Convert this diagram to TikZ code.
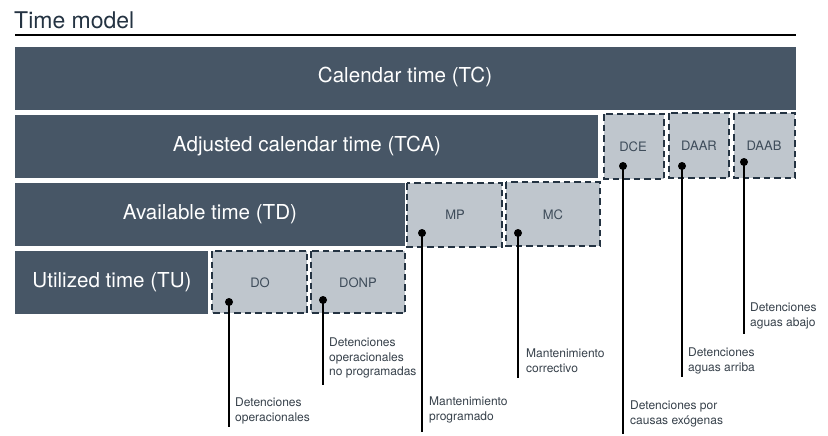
\documentclass[tikz,border=0pt]{standalone}
\usepackage{fontspec}
\setmainfont{TeX Gyre Heros}
\begin{document}
\definecolor{slate}{HTML}{475666}
\definecolor{paleslate}{HTML}{BFC6CD}
\definecolor{edge}{HTML}{243342}
\definecolor{labelgray}{HTML}{3E4C5A}
\definecolor{notegray}{HTML}{36404A}
\begin{tikzpicture}[x=1pt,y=-1pt,
  band/.style={fill=slate,draw=none},
  bandtext/.style={text=white,font=\fontsize{20.6}{24}\selectfont,inner sep=0pt},
  lossbox/.style={fill=paleslate,draw=edge,line width=2pt,dash pattern=on 6.5pt off 4pt},
  losstext/.style={text=labelgray,font=\fontsize{13}{15}\selectfont,inner sep=0pt},
  pin/.style={fill=black,draw=none},
  leader/.style={draw=black,line width=1.1pt},
  note/.style={text=notegray,font=\fontsize{12}{14.2}\selectfont,align=left,inner sep=0pt,anchor=north west}]
\useasboundingbox (0,0) rectangle (828,436);

% heading
\node[anchor=base west,inner sep=0pt,text=edge,font=\fontsize{23}{27}\selectfont] (title) at (14,29) {Time model};
\draw[line width=2pt] (15,35) -- (796,35);

% nested time bands
\fill[band] (15,47) rectangle (796,110);
\node[bandtext] (tc) at (405,77) {Calendar time (TC)};
\fill[band] (15,115) rectangle (598,178);
\node[bandtext] (tca) at (307,146) {Adjusted calendar time (TCA)};
\fill[band] (15,183) rectangle (405,246);
\node[bandtext] (td) at (210,214) {Available time (TD)};
\fill[band] (15,251) rectangle (208,314);
\node[bandtext] (tu) at (112,282) {Utilized time (TU)};

% losses
\draw[lossbox] (604,114) rectangle (664,179);
\node[losstext] (dce) at (633,147) {DCE};
\draw[lossbox] (669,113) rectangle (729,178);
\node[losstext] (daar) at (699,146) {DAAR};
\draw[lossbox] (734,113) rectangle (795,178);
\node[losstext] (daab) at (764,146) {DAAB};
\draw[lossbox] (407,183) rectangle (502,247);
\node[losstext] (mp) at (455,215) {MP};
\draw[lossbox] (506,182) rectangle (600,246);
\node[losstext] (mc) at (553,215) {MC};
\draw[lossbox] (212,251) rectangle (307,313);
\node[losstext] (do) at (260,283) {DO};
\draw[lossbox] (311,251) rectangle (405,313);
\node[losstext] (donp) at (358,283) {DONP};

% pins and leader ends
\coordinate (do-pin) at (229,302);   \coordinate (do-end) at (229,427);
\coordinate (donp-pin) at (323,300); \coordinate (donp-end) at (323,385);
\coordinate (mp-pin) at (422,233);   \coordinate (mp-end) at (422,432);
\coordinate (mc-pin) at (518,233);   \coordinate (mc-end) at (518,378);
\coordinate (dce-pin) at (623,166);  \coordinate (dce-end) at (623,434);
\coordinate (daar-pin) at (682,166); \coordinate (daar-end) at (682,377);
\coordinate (daab-pin) at (744,162); \coordinate (daab-end) at (744,334);

\foreach \k in {do,donp,mp,mc,dce,daar,daab}{
  \draw[leader] (\k-pin) -- (\k-end);
  \fill[pin] (\k-pin) circle (4pt);
}

% descriptions
\node[note] (do-note) at (235,398) {Detenciones\\operacionales};
\node[note] (donp-note) at (329,338) {Detenciones\\operacionales\\no programadas};
\node[note] (mp-note) at (429,397) {Mantenimiento\\programado};
\node[note] (mc-note) at (526,349) {Mantenimiento\\correctivo};
\node[note] (dce-note) at (630,401) {Detenciones por\\causas exógenas};
\node[note] (daar-note) at (688,348) {Detenciones\\aguas arriba};
\node[note] (daab-note) at (750,303) {Detenciones\\aguas abajo};
\end{tikzpicture}
\end{document}
